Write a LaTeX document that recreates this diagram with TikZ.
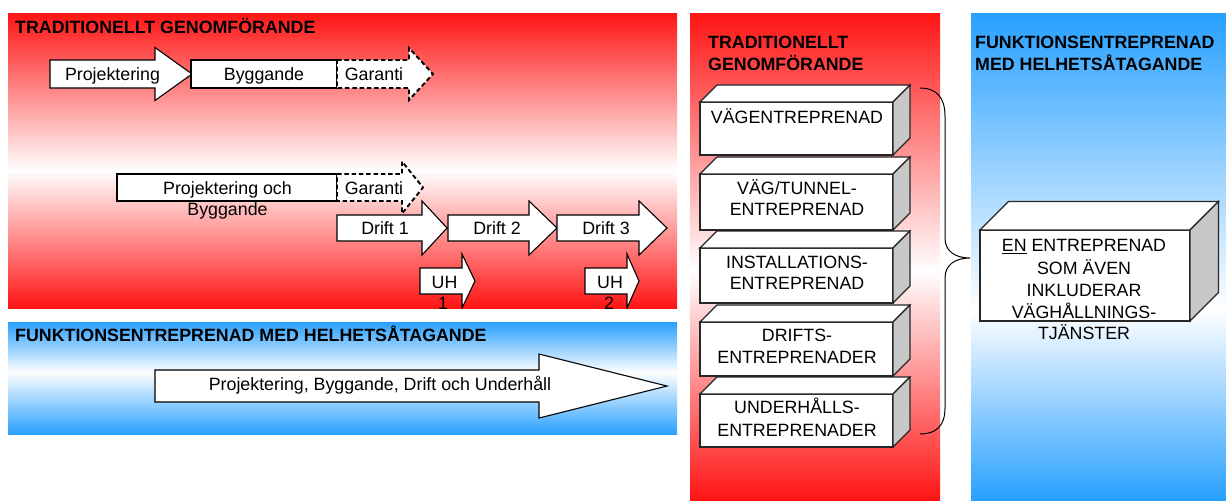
\documentclass[tikz,border=0pt]{standalone}
\usepackage{fontspec}
\setmainfont{Liberation Sans}
\definecolor{pred}{RGB}{255,20,20}
\definecolor{pblue}{RGB}{40,160,255}
\definecolor{sidegrey}{RGB}{200,200,200}
\newcommand\blockarr[7][]{%
  \draw[#1] (#2,#5-#6) -- (#3,#5-#6) -- (#3,#5-#7) -- (#4,#5) -- (#3,#5+#7) -- (#3,#5+#6) -- (#2,#5+#6) -- cycle;}
\newcommand\cubebox[5]{%
  \draw[boxline,fill=white] (#1,#2) rectangle (#3,#4);
  \draw[boxline,fill=white] (#1,#2) -- (#1+#5,#2-#5) -- (#3+#5,#2-#5) -- (#3,#2) -- cycle;
  \draw[boxline,fill=sidegrey] (#3,#2) -- (#3+#5,#2-#5) -- (#3+#5,#4-#5) -- (#3,#4) -- cycle;}
\begin{document}
\begin{tikzpicture}[x=1pt,y=-1pt,
  shp/.style={draw=black,fill=white,line width=1.1pt,line join=miter},
  dshp/.style={draw=black,fill=white,line width=1.9pt,dash pattern=on 4.5pt off 2.8pt},
  boxline/.style={draw=black!85,line width=1.2pt},
  lbl/.style={font=\fontsize{17.8}{21}\selectfont,anchor=base,inner sep=0pt},
  ttl/.style={font=\fontsize{17.8}{21}\selectfont\bfseries,anchor=base west,inner sep=0pt}]
\useasboundingbox (0,0) rectangle (1226,501);
% ---------- panels ----------
\shade[top color=pred,bottom color=white] (8,13) rectangle (677,171);
\shade[top color=white,bottom color=pred] (8,170.5) rectangle (677,308);
\shade[top color=pblue,bottom color=white] (8,322) rectangle (677,372.5);
\shade[top color=white,bottom color=pblue] (8,372) rectangle (677,434);
\shade[top color=pred,bottom color=white] (690,13) rectangle (940,271);
\shade[top color=white,bottom color=pred] (690,270) rectangle (940,500);
\shade[top color=pblue,bottom color=white] (971,13) rectangle (1226,311);
\shade[top color=white,bottom color=pblue] (971,310) rectangle (1226,500);
% ---------- top-left: traditionellt ----------
\node[ttl] (tt1) at (15,33) {TRADITIONELLT GENOMFÖRANDE};
\begin{scope}
\clip (8,13) rectangle (677,308);
\blockarr[shp]{50}{155}{192}{74}{14}{26.5}
\draw[shp] (191,60) rectangle (337,88);
\blockarr[dshp]{337}{409}{433}{74}{14}{26}
\node[lbl] (proj) at (112.5,80) {Projektering};
\node[lbl] (bygg) at (264,80) {Byggande};
\node[lbl] (gar1) at (374,80) {Garanti};
\draw[shp] (117,174) rectangle (337,201);
\blockarr[shp]{337}{422}{447}{228}{13}{27}
\blockarr[dshp]{337}{402}{423}{187.5}{13.5}{26}
\blockarr[shp]{448}{529}{557}{228}{13}{27}
\blockarr[shp]{557}{639}{667}{228}{13}{27}
\blockarr[shp]{420}{462}{475}{281}{13}{27}
\blockarr[shp]{585}{627}{639}{281}{13}{27}
\node[lbl] (pob1) at (227.5,194) {Projektering och};
\node[lbl] (pob2) at (227.5,215) {Byggande};
\node[lbl] (gar2) at (374,194) {Garanti};
\node[lbl] (d1) at (385,234) {Drift 1};
\node[lbl] (d2) at (497,234) {Drift 2};
\node[lbl] (d3) at (606,234) {Drift 3};
\node[lbl] (uh1a) at (444.5,288.5) {UH};
\node[lbl] (uh1b) at (443,309.5) {1};
\node[lbl] (uh2a) at (610,288.5) {UH};
\node[lbl] (uh2b) at (609,309.5) {2};
\end{scope}
% ---------- bottom-left: funktionsentreprenad ----------
\node[ttl] (tt2) at (15,341.5) {FUNKTIONSENTREPRENAD MED HELHETSÅTAGANDE};
\blockarr[shp]{155}{539}{667}{386}{16}{32}
\node[lbl] (pbdu) at (380,390.5) {Projektering, Byggande, Drift och Underhåll};
% ---------- right red column ----------
\node[ttl] (tt3a) at (708,48.5) {TRADITIONELLT};
\node[ttl] (tt3b) at (708,70.5) {GENOMFÖRANDE};
\cubebox{700}{102}{893}{155}{17}
\cubebox{700}{174}{893}{230}{17}
\cubebox{700}{248}{893}{303}{17}
\cubebox{700}{322}{893}{376}{17}
\cubebox{700}{394}{893}{447}{17}
\node[lbl] (b1) at (797,123) {VÄGENTREPRENAD};
\node[lbl] (b2a) at (797,194.5) {VÄG/TUNNEL-};
\node[lbl] (b2b) at (797,215.5) {ENTREPRENAD};
\node[lbl] (b3a) at (797,268) {INSTALLATIONS-};
\node[lbl] (b3b) at (797,289.5) {ENTREPRENAD};
\node[lbl] (b4a) at (797,341) {DRIFTS-};
\node[lbl] (b4b) at (797,363) {ENTREPRENADER};
\node[lbl] (b5a) at (797,413.5) {UNDERHÅLLS-};
\node[lbl] (b5b) at (797,436) {ENTREPRENADER};
% ---------- brace ----------
\coordinate (brtop) at (920,88);
\coordinate (brtip) at (970,258);
\coordinate (brbot) at (920,434);
\draw[line width=1pt] (brtop) .. controls (936,88) and (945,97) .. (945,116) -- (945,238)
  .. controls (945,251) and (955,258) .. (brtip)
  .. controls (955,258) and (945,265) .. (945,278) -- (945,408)
  .. controls (945,426) and (936,434) .. (brbot);
% ---------- right blue column ----------
\node[ttl] (tt4a) at (975,48.5) {FUNKTIONSENTREPRENAD};
\node[ttl] (tt4b) at (975,70.5) {MED HELHETSÅTAGANDE};
\cubebox{980}{230}{1190}{321}{28.5}
\node[lbl] (e1) at (1084,251.5) {\underline{EN} ENTREPRENAD};
\node[lbl] (e2) at (1084,274) {SOM ÄVEN};
\node[lbl] (e3) at (1084,296.5) {INKLUDERAR};
\node[lbl] (e4) at (1084,318.5) {VÄGHÅLLNINGS-};
\node[lbl] (e5) at (1084,339.5) {TJÄNSTER};
\end{tikzpicture}
\end{document}
